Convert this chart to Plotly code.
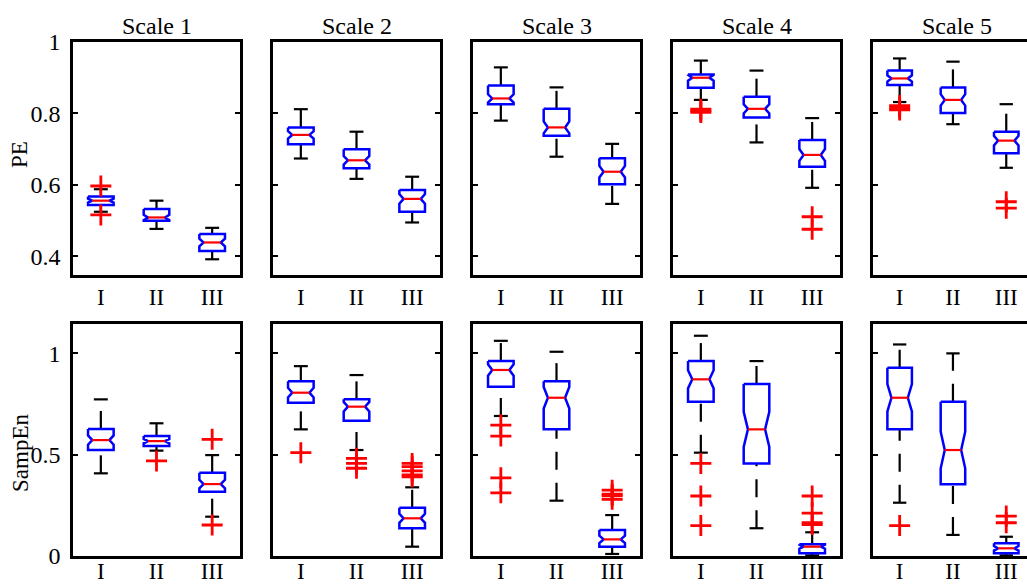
import math
import plotly.graph_objects as go

# ---------------- data ----------------
scales = ["Scale 1", "Scale 2", "Scale 3", "Scale 4", "Scale 5"]
groups = ["I", "II", "III"]
row_names = ["PE", "SampEn"]
N_OBS = 50  # observations per group (used for MATLAB notch width)

# PE row: per scale, values for groups I, II, III
pe_q1 = [[0.544, 0.500, 0.415], [0.714, 0.647, 0.525], [0.826, 0.738, 0.602],
         [0.872, 0.789, 0.651], [0.880, 0.801, 0.689]]
pe_med = [[0.556, 0.509, 0.439], [0.740, 0.669, 0.561], [0.842, 0.761, 0.637],
          [0.900, 0.813, 0.684], [0.898, 0.838, 0.724]]
pe_q3 = [[0.568, 0.533, 0.463], [0.761, 0.700, 0.586], [0.878, 0.813, 0.675],
         [0.909, 0.847, 0.726], [0.920, 0.873, 0.749]]
pe_lo = [[0.525, 0.477, 0.392], [0.674, 0.617, 0.495], [0.780, 0.679, 0.547],
         [0.838, 0.719, 0.592], [0.832, 0.770, 0.648]]
pe_hi = [[0.588, 0.556, 0.480], [0.812, 0.749, 0.623], [0.929, 0.873, 0.715],
         [0.948, 0.920, 0.787], [0.954, 0.945, 0.826]]
pe_out = [[[0.597, 0.516], [], []],
          [[], [], []],
          [[], [], []],
          [[0.812, 0.807, 0.803], [], [0.511, 0.476]],
          [[0.822, 0.815, 0.810], [], [0.553, 0.535]]]

# SampEn row
se_q1 = [[0.523, 0.543, 0.317], [0.756, 0.668, 0.137], [0.835, 0.625, 0.046],
         [0.761, 0.457, 0.013], [0.625, 0.354, 0.013]]
se_med = [[0.572, 0.567, 0.355], [0.806, 0.737, 0.186], [0.918, 0.781, 0.082],
          [0.872, 0.625, 0.046], [0.781, 0.523, 0.038]]
se_q3 = [[0.627, 0.592, 0.411], [0.863, 0.773, 0.238], [0.962, 0.863, 0.128],
         [0.962, 0.849, 0.058], [0.929, 0.761, 0.063]]
se_lo = [[0.408, 0.520, 0.194], [0.625, 0.523, 0.046], [0.691, 0.273, 0.010],
         [0.510, 0.137, 0.003], [0.263, 0.104, 0.003]]
se_hi = [[0.773, 0.655, 0.498], [0.937, 0.893, 0.339], [1.062, 1.008, 0.202],
         [1.087, 0.962, 0.117], [1.044, 1.000, 0.095]]
se_out = [[[], [0.469], [0.576, 0.153]],
          [[0.510], [0.482, 0.457, 0.433], [0.457, 0.441, 0.420, 0.400, 0.391]],
          [[0.646, 0.592, 0.386, 0.312], [], [0.325, 0.305, 0.298, 0.280]],
          [[0.457, 0.296, 0.150], [], [0.296, 0.212, 0.165, 0.155]],
          [[0.150], [], [0.197, 0.164]]]

pe_ticks = [0.4, 0.6, 0.8, 1.0]
pe_ticktext = ["0.4", "0.6", "0.8", "1"]
se_ticks = [0.0, 0.5, 1.0]
se_ticktext = ["0", "0.5", "1"]

# ---------------- layout geometry (pixels) ----------------
W, H = 1027, 585
PANEL_LEFT = [73, 273, 473, 673, 873]
PANEL_W = 167
ROW_TOP = [42, 324]
ROW_BOT = [275, 556]
Y_RANGES = [[0.348, 1.0], [0.0, 1.145]]
PPU = [PANEL_W / 3.0] * 4 + [53.3]  # pixels per x unit per column

BOX_W = 0.46
NOTCH_FRAC = 0.67
CAP_W = 0.25
FONT = "Liberation Serif, Times New Roman, serif"

rows = [
    (pe_q1, pe_med, pe_q3, pe_lo, pe_hi, pe_out),
    (se_q1, se_med, se_q3, se_lo, se_hi, se_out),
]

fig = go.Figure()
layout = {}

for r, (Q1, MED, Q3, LO, HI, OUT) in enumerate(rows):
    for c in range(5):
        k = r * 5 + c + 1
        xa = "x" if k == 1 else f"x{k}"
        ya = "y" if k == 1 else f"y{k}"
        x0 = PANEL_LEFT[c]
        x1 = min(x0 + PANEL_W, W)
        xr_end = 0.5 + (x1 - x0) / PPU[c]

        wx, wy = [], []
        bx, by = [], []
        mx, my = [], []
        cx, cy = [], []
        ox, oy = [], []
        for g in range(3):
            p = g + 1
            q1, md, q3 = Q1[c][g], MED[c][g], Q3[c][g]
            lo, hi = LO[c][g], HI[c][g]
            nd = 1.57 * (q3 - q1) / math.sqrt(N_OBS)
            h = BOX_W / 2
            hn = h * NOTCH_FRAC
            wx += [p, p, None, p, p, None]
            wy += [q3, hi, None, lo, q1, None]
            cx += [p - CAP_W / 2, p + CAP_W / 2, None, p - CAP_W / 2, p + CAP_W / 2, None]
            cy += [hi, hi, None, lo, lo, None]
            bx += [p - h, p + h, p + h, p + hn, p + h, p + h, p - h, p - h, p - hn, p - h, p - h, None]
            by += [q3, q3, md + nd, md, md - nd, q1, q1, md - nd, md, md + nd, q3, None]
            mx += [p - hn, p + hn, None]
            my += [md, md, None]
            for o in OUT[c][g]:
                ox.append(p)
                oy.append(o)

        common = dict(xaxis=xa, yaxis=ya, showlegend=False, hoverinfo="skip")
        fig.add_trace(go.Scatter(x=wx, y=wy, mode="lines",
                                 line=dict(color="black", width=2.2, dash="18px,13px"), **common))
        fig.add_trace(go.Scatter(x=cx, y=cy, mode="lines",
                                 line=dict(color="black", width=2.2), **common))
        fig.add_trace(go.Scatter(x=bx, y=by, mode="lines",
                                 line=dict(color="#0000ff", width=2.5), **common))
        fig.add_trace(go.Scatter(x=mx, y=my, mode="lines",
                                 line=dict(color="#ff0000", width=2.2), **common))
        fig.add_trace(go.Scatter(x=ox, y=oy, mode="markers",
                                 marker=dict(symbol="cross-thin", size=15, color="#ff0000",
                                             line=dict(color="#ff0000", width=2.8)),
                                 **common))

        xkey = "xaxis" if k == 1 else f"xaxis{k}"
        ykey = "yaxis" if k == 1 else f"yaxis{k}"
        layout[xkey] = dict(
            domain=[x0 / W, x1 / W], anchor=ya, range=[0.5, xr_end],
            tickvals=[1, 2, 3], ticktext=groups, ticks="", showgrid=False,
            zeroline=False, showline=True, linecolor="black", linewidth=2.5,
            mirror=True, tickfont=dict(family=FONT, size=23, color="black"),
            ticklabelstandoff=(0 if r == 0 else -7),
            fixedrange=True, automargin=False,
        )
        layout[ykey] = dict(
            domain=[(H - ROW_BOT[r]) / H, (H - ROW_TOP[r]) / H], anchor=xa,
            range=Y_RANGES[r],
            tickvals=pe_ticks if r == 0 else se_ticks,
            ticktext=pe_ticktext if r == 0 else se_ticktext,
            showticklabels=(c == 0), ticks="inside", ticklen=5, tickwidth=2,
            tickcolor="black", showgrid=False, zeroline=False, showline=True,
            linecolor="black", linewidth=2.5, mirror=("ticks" if c < 4 else False),
            tickfont=dict(family=FONT, size=24, color="black"), ticklabelstandoff=5,
            fixedrange=True, automargin=False,
        )

annotations = []
for c in range(5):
    xc = (PANEL_LEFT[c] + PANEL_W / 2) / W
    annotations.append(dict(text=scales[c], x=xc, y=(H - 26) / H, xref="paper", yref="paper",
                            showarrow=False, xanchor="center", yanchor="middle",
                            font=dict(family=FONT, size=24, color="black")))
for r, (name, yc) in enumerate(zip(row_names, [155, 453])):
    annotations.append(dict(text=name, x=20 / W, y=(H - yc) / H, xref="paper", yref="paper",
                            showarrow=False, xanchor="center", yanchor="middle", textangle=-90,
                            font=dict(family=FONT, size=23, color="black")))

fig.update_layout(
    width=W, height=H, margin=dict(l=0, r=0, t=0, b=0, autoexpand=False),
    paper_bgcolor="white", plot_bgcolor="white",
    annotations=annotations, **layout,
)

fig.write_html("out.html", config={"displayModeBar": False},
               post_script="document.body.style.margin='0';document.body.style.overflow='hidden';")
